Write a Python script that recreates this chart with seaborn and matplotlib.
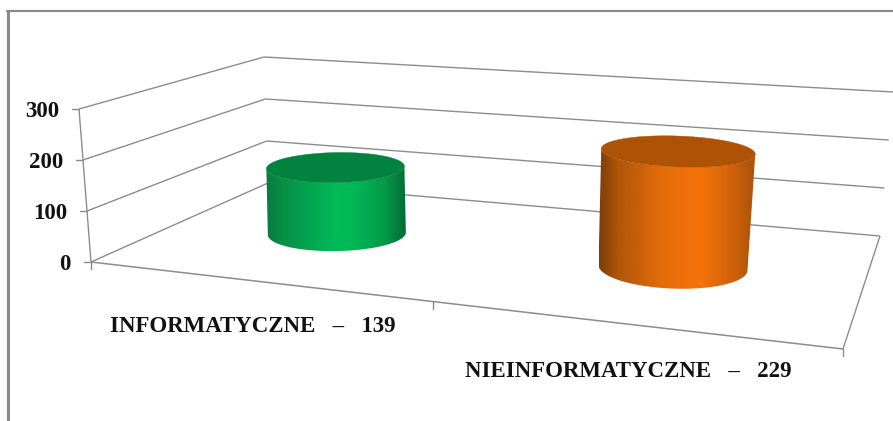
import numpy as np
import pandas as pd
import matplotlib
matplotlib.use("Agg")
import matplotlib.pyplot as plt
from matplotlib.colors import LinearSegmentedColormap
from matplotlib.patches import Polygon
import seaborn as sns

# --- data ---
categories = ["INFORMATYCZNE   –   139", "NIEINFORMATYCZNE   –   229"]
values = [139, 229]
y_ticks = [0, 100, 200, 300]
top_colors = ["#02823F", "#AE5305"]
side_colors = [
    [(0, "#0A7A40"), (.12, "#079048"), (.5, "#00BB58"), (.62, "#02B856"), (.85, "#059A4A"), (1, "#036B35")],
    [(0, "#7E3E08"), (.12, "#B0560A"), (.4, "#E56C0A"), (.65, "#F57209"), (.85, "#CF620A"), (1, "#A8520A")],
]

# --- layout: perspective box in pixels (floor / top plane corners) ---
VMAX = 300
FLOOR = dict(fl=(91, 262), fr=(843, 349), bl=(268, 183), br=(880, 236))
TOP = dict(fl=(79, 109), fr=(855, 175), bl=(264, 57), br=(893, 92))
BAR_U = [0.22, 0.718]
BAR_D = 0.55
# half width / half height of the base and top ellipses, and their tilt
BASE_A = [69, 74.5]
TOP_A = [69, 77]
BASE_B = [17.5, 21]
TOP_B = [15, 15.5]
TILT = [-0.018, 0.035]
GREY = "#8C8C8C"


def project(u, d, v):
    """Map category position u, depth d and data value v onto the canvas."""
    u, d, v = np.asarray(u, float), np.asarray(d, float), np.asarray(v, float)
    def plane(c, i):
        return ((1 - u) * (1 - d) * c["fl"][i] + u * (1 - d) * c["fr"][i]
                + (1 - u) * d * c["bl"][i] + u * d * c["br"][i])
    t = v / VMAX
    return (plane(FLOOR, 0) * (1 - t) + plane(TOP, 0) * t,
            plane(FLOOR, 1) * (1 - t) + plane(TOP, 1) * t)


sns.set_theme(style="white")
plt.rcParams["font.family"] = ["Liberation Serif", "DejaVu Serif"]

fig = plt.figure(figsize=(8.93, 4.21), dpi=100, facecolor="white")
ax = fig.add_axes([0, 0, 1, 1])
ax.axis("off")


def line(u, d, v, lw=1.0, color=GREY):
    x, y = project(u, d, v)
    df = pd.DataFrame({"x": np.atleast_1d(x), "y": np.atleast_1d(y)})
    sns.lineplot(data=df, x="x", y="y", sort=False, estimator=None,
                 color=color, lw=lw, ax=ax, legend=False,
                 solid_capstyle="butt")


# outer frame
sns.lineplot(x=[7.5, 7.5], y=[421, 11], sort=False, estimator=None, color="#8A8A8A", lw=2.2, ax=ax)
sns.lineplot(x=[6.5, 893], y=[11, 11], sort=False, estimator=None, color="#8A8A8A", lw=1.6, ax=ax)

# walls, gridlines and floor
for v in y_ticks:
    line([0, 0], [0, 1], [v, v])          # left wall
    line([0, 1], [1, 1], [v, v])          # back wall
    x, y = project(0, 0, v)
    ax.plot([x - 7, x], [y, y], color=GREY, lw=1.0)
    ax.text(x - 20, y, f"{v}", ha="right", va="center_baseline", fontsize=16.5,
            fontweight="bold", color="#111111")
line([0, 0], [0, 0], [0, VMAX])           # value axis
line([0, 1], [0, 0], [0, 0], lw=1.1)      # front edge
line([1, 1], [0, 1], [0, 0])              # right edge
for u in [0, 0.455, 1]:
    x, y = project(u, 0, 0)
    ax.plot([x, x], [y, y + 7], color=GREY, lw=1.0)

# cylinders
theta = np.linspace(0, np.pi, 161)
ring = np.linspace(0, 2 * np.pi, 181)
for i, val in enumerate(values):
    cmap = LinearSegmentedColormap.from_list(f"c{i}", side_colors[i])
    cxb, cyb = project(BAR_U[i], BAR_D, 0)
    cxt, cyt = project(BAR_U[i], BAR_D, val)
    xb = cxb + BASE_A[i] * np.cos(theta)
    yb = cyb + BASE_B[i] * np.sin(theta) + TILT[i] * BASE_A[i] * np.cos(theta)
    xt = cxt + TOP_A[i] * np.cos(theta)
    yt = cyt + TOP_B[i] * np.sin(theta) + TILT[i] * TOP_A[i] * np.cos(theta)
    # side: a smooth horizontal gradient clipped to the cylinder outline
    outline = np.vstack([np.column_stack([xb, yb]),
                         np.column_stack([xt[::-1], yt[::-1]])])
    x0, x1 = outline[:, 0].min(), outline[:, 0].max()
    y0, y1 = outline[:, 1].min(), outline[:, 1].max()
    shade = np.linspace(0, 1, 256)[None, :]
    im = ax.imshow(shade, cmap=cmap, vmin=0, vmax=1, aspect="auto",
                   extent=(x0, x1, y1, y0), zorder=5, interpolation="bilinear")
    clip = Polygon(outline, closed=True, transform=ax.transData,
                   facecolor="none", edgecolor="none")
    ax.add_patch(clip)
    im.set_clip_path(clip)
    xr = cxt + TOP_A[i] * np.cos(ring)
    yr = cyt + TOP_B[i] * np.sin(ring) + TILT[i] * TOP_A[i] * np.cos(ring)
    ax.fill(xr, yr, color=top_colors[i], lw=0.3, zorder=6)

# category labels
label_pos = [(110, 324), (465, 369)]
for name, (lx, ly) in zip(categories, label_pos):
    ax.text(lx, ly, name, ha="left", va="center_baseline", fontsize=16.5,
            fontweight="bold", color="#111111")

ax.set_xlim(0, 893)
ax.set_ylim(421, 0)
ax.set_aspect("auto")
fig.savefig("out.png", dpi=100, facecolor="white")
